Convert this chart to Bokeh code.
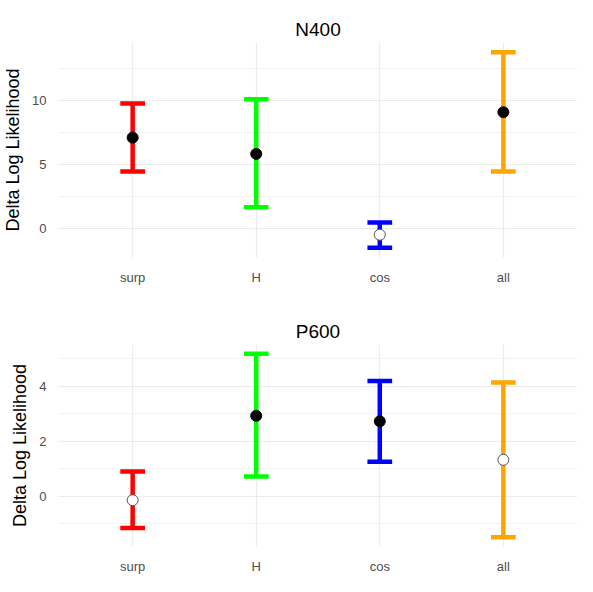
from bokeh.plotting import figure
from bokeh.layouts import column
from bokeh.models import Range1d, FixedTicker, SingleIntervalTicker, ColumnDataSource
from bokeh.embed import file_html
from bokeh.resources import INLINE

categories = ["surp", "H", "cos", "all"]
colors = ["#FF0000", "#00FF00", "#0000FF", "#FFA500"]

n400_mean = [7.1, 5.83, -0.45, 9.07]
n400_lower = [4.47, 1.69, -1.46, 4.47]
n400_upper = [9.75, 10.08, 0.5, 13.73]

p600_mean = [-0.15, 2.92, 2.72, 1.32]
p600_lower = [-1.16, 0.71, 1.25, -1.5]
p600_upper = [0.89, 5.18, 4.19, 4.13]

FONT = "Liberation Sans"
W = 577


def make_panel(title, mean, lower, upper, interval, b_top, b_bottom, b_left, height):
    xs = list(range(1, len(categories) + 1))
    lo_min, hi_max = min(lower), max(upper)
    pad = 0.05 * (hi_max - lo_min)
    p = figure(width=W, height=height, output_backend="svg", toolbar_location=None,
               x_range=Range1d(0.4, 4.6), y_range=Range1d(lo_min - pad, hi_max + pad),
               min_border_top=b_top, min_border_bottom=b_bottom,
               min_border_left=b_left, min_border_right=0)
    p.outline_line_color = None
    p.background_fill_color = "white"
    p.border_fill_color = "white"

    p.title.text = title
    p.title.align = "center"
    p.title.text_font = FONT
    p.title.text_font_size = "19px"
    p.title.text_font_style = "normal"
    p.title.text_color = "#000000"
    p.title.standoff = 6

    src = ColumnDataSource(dict(
        x=xs, x0=[x - 0.1 for x in xs], x1=[x + 0.1 for x in xs],
        mean=mean, lower=lower, upper=upper, color=colors,
        fill=["black" if lo > 0 else "white" for lo in lower],
        line=["black" if lo > 0 else "#555555" for lo in lower],
    ))
    p.segment(x0="x", x1="x", y0="lower", y1="upper", line_color="color", line_width=4.5, source=src)
    p.segment(x0="x0", x1="x1", y0="upper", y1="upper", line_color="color", line_width=4.5, source=src)
    p.segment(x0="x0", x1="x1", y0="lower", y1="lower", line_color="color", line_width=4.5, source=src)
    p.scatter(x="x", y="mean", size=11, fill_color="fill", line_color="line", line_width=1, source=src)

    p.xaxis.ticker = FixedTicker(ticks=xs)
    p.xaxis.major_label_overrides = {x: c for x, c in zip(xs, categories)}
    p.yaxis.ticker = SingleIntervalTicker(interval=interval, num_minor_ticks=2)
    p.yaxis.axis_label = "Delta Log Likelihood"
    p.yaxis.axis_label_text_font = FONT
    p.yaxis.axis_label_text_font_size = "18px"
    p.yaxis.axis_label_text_font_style = "normal"
    p.yaxis.axis_label_text_color = "#000000"
    p.yaxis.axis_label_standoff = 6
    for ax in (p.xaxis, p.yaxis):
        ax.axis_line_color = None
        ax.major_tick_line_color = None
        ax.minor_tick_line_color = None
        ax.major_label_text_font = FONT
        ax.major_label_text_font_size = "13px"
        ax.major_label_text_color = "#4D4D4D"
        ax.major_label_standoff = 6

    p.xgrid.grid_line_color = "#EBEBEB"
    p.xgrid.grid_line_width = 1.2
    p.ygrid.grid_line_color = "#EBEBEB"
    p.ygrid.grid_line_width = 1.2
    p.ygrid.minor_grid_line_color = "#F0F0F0"
    p.ygrid.minor_grid_line_width = 0.8
    return p


top = make_panel("N400", n400_mean, n400_lower, n400_upper, 5, 42, 31, 54, 288)
bottom = make_panel("P600", p600_mean, p600_lower, p600_upper, 2, 56, 22, 45, 288)

layout = column(top, bottom, spacing=0)
open("out.html", "w").write(file_html(layout, INLINE))
